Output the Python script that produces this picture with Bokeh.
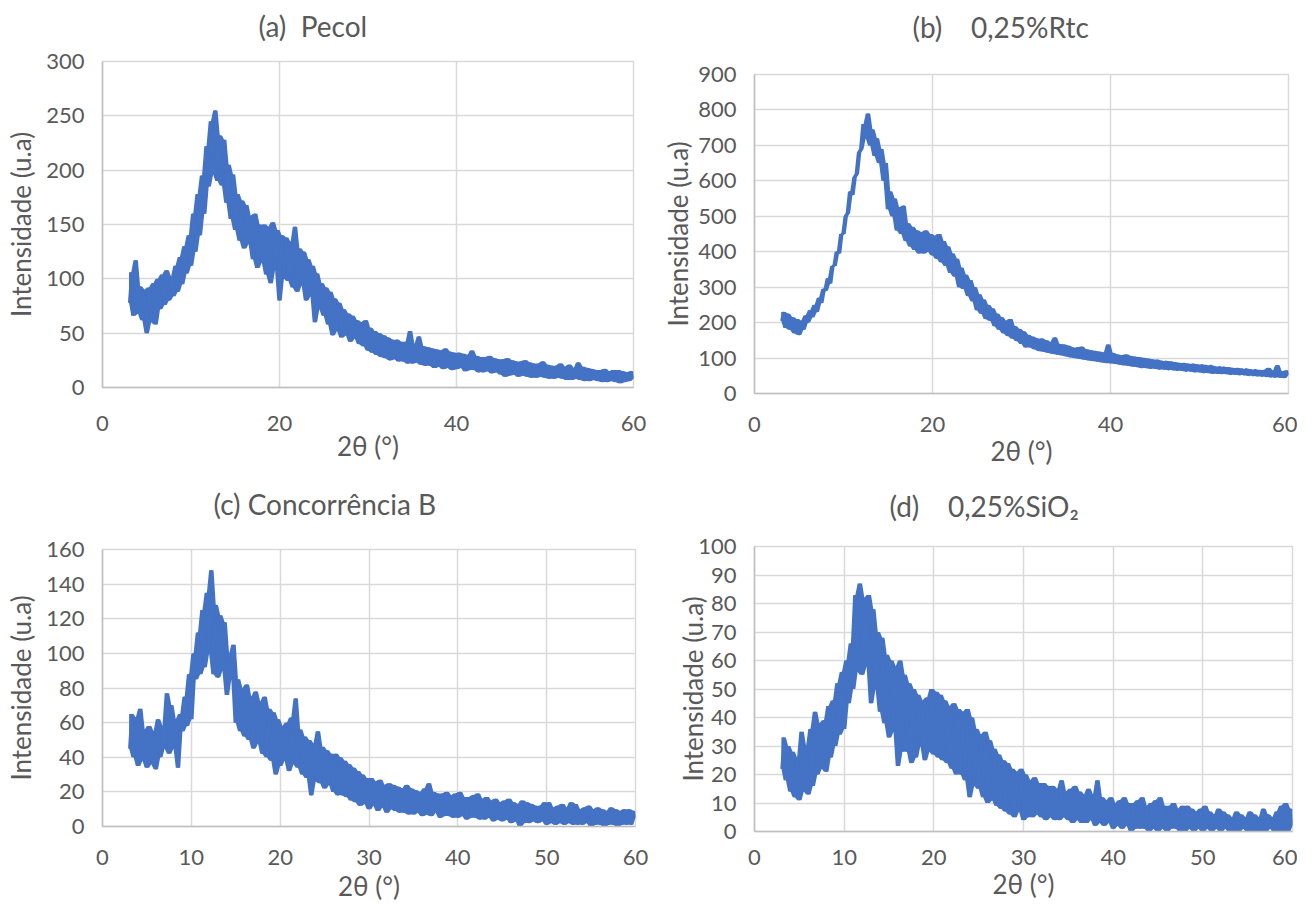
from bokeh.plotting import figure
from bokeh.layouts import row, column
from bokeh.models import Range1d, FixedTicker, ColumnDataSource
from bokeh.embed import file_html
from bokeh.resources import INLINE

# ---------------- data ----------------
TWO_THETA_START = 3.0
TWO_THETA_STEP = 0.25

pecol = [
    78, 106, 66, 117,   68, 93, 62, 90,   50, 92, 60, 96,   58, 100, 72, 104,
    76, 108, 80, 102,   84, 112, 88, 120,  95, 130, 105, 140, 112, 160, 125, 178,
    140, 195, 160, 222, 185, 245, 196, 255, 190, 232, 186, 228, 170, 205, 155, 196,
    145, 178, 135, 172, 128, 168, 132, 158, 118, 160, 110, 150, 115, 150, 104, 148,
    96, 152, 108, 145,  80, 140, 100, 138,  98, 134, 92, 148,  88, 128, 94, 125,
    80, 118, 84, 112,   60, 105, 72, 96,    66, 92, 58, 88,    48, 82, 52, 78,
    46, 72, 48, 68,     42, 66, 45, 62,    40, 60, 38, 62,    34, 55, 32, 52,
    30, 50, 28, 48,     27, 46, 25, 44,    26, 44, 24, 42,    24, 42, 22, 52,
    22, 40, 23, 47,     21, 38, 20, 37,    20, 36, 18, 35,    19, 34, 17, 36,
    18, 33, 16, 32,     17, 32, 18, 31,    15, 30, 16, 34,    16, 29, 14, 28,
    14, 28, 15, 29,     13, 27, 14, 26,    12, 26, 10, 27,    11, 25, 12, 24,
    10, 24, 11, 25,     10, 23, 9, 22,     9, 22, 10, 24,     9, 21, 8, 20,
    8, 20, 9, 22,       8, 19, 7, 21,      7, 18, 8, 23,      7, 19, 6, 18,
    6, 17, 7, 16,       6, 16, 5, 17,      5, 15, 6, 16,      5, 16, 4, 15,
    5, 14, 6, 15,       8,
]

rtc = [
    205, 230, 185, 225, 180, 215, 170, 210, 165, 205, 180, 220, 200, 235, 215, 250,
    230, 270, 255, 295, 290, 325, 310, 360, 360, 400, 395, 450, 450, 500, 510, 570,
    560, 610, 620, 680, 690, 760, 720, 790, 700, 745, 670, 720, 650, 690, 600, 650,
    520, 570, 500, 550, 460, 525, 450, 530, 430, 480, 415, 470, 405, 460, 395, 455,
    395, 460, 400, 450, 390, 445, 380, 450, 370, 430, 360, 415, 340, 395, 330, 380,
    300, 355, 295, 335, 275, 320, 260, 300, 235, 280, 225, 265, 210, 250, 205, 240,
    190, 225, 180, 215, 170, 205, 162, 210, 155, 190, 148, 182, 140, 175, 130, 165,
    130, 160, 125, 155, 120, 155, 118, 150, 115, 145, 112, 158, 110, 140, 108, 138,
    105, 135, 102, 130, 100, 130, 98, 132,  96, 125, 94, 122,   92, 120, 90, 118,
    88, 116, 86, 138,   85, 114, 84, 110,   82, 108, 80, 110,   78, 106, 76, 104,
    75, 102, 72, 100,   72, 98, 70, 96,     70, 95, 68, 92,     68, 92, 66, 90,
    66, 88, 64, 86,     64, 86, 62, 84,     62, 84, 60, 82,     60, 82, 58, 80,
    58, 80, 56, 76,     56, 76, 55, 75,     55, 74, 53, 72,     53, 72, 52, 70,
    52, 70, 50, 68,     50, 68, 49, 66,     48, 66, 47, 72,     46, 64, 45, 80,
    45, 62, 44, 65,     52,
]

concorrencia_b = [
    45, 65, 40, 63,   35, 68, 38, 56,   34, 58, 36, 55,   33, 62, 40, 58,
    45, 77, 42, 70,   45, 62, 34, 65,   55, 75, 58, 88,   62, 100, 85, 112,
    88, 125, 92, 135, 100, 148, 88, 128, 86, 122, 90, 118, 76, 100, 85, 105,
    60, 85, 55, 80,   52, 82, 50, 75,   45, 78, 48, 72,   42, 75, 40, 68,
    38, 66, 30, 62,   35, 58, 38, 60,   32, 63, 36, 74,   34, 56, 30, 52,
    28, 50, 18, 48,   26, 55, 25, 46,   22, 44, 24, 42,   20, 42, 18, 40,
    18, 38, 17, 36,   15, 34, 14, 32,   12, 30, 13, 28,   10, 28, 12, 26,
    9, 27, 11, 24,    8, 25, 10, 24,    9, 23, 8, 22,     8, 24, 7, 22,
    7, 21, 8, 20,     6, 22, 7, 25,     6, 20, 8, 19,     5, 19, 6, 20,
    6, 18, 5, 19,     5, 20, 6, 17,     4, 17, 5, 18,     5, 19, 4, 16,
    4, 17, 5, 15,     3, 16, 4, 14,     3, 15, 4, 16,     2, 14, 3, 13,
    0, 15, 2, 14,     2, 13, 3, 12,     2, 12, 3, 14,     1, 14, 2, 11,
    1, 12, 2, 13,     1, 11, 2, 14,     1, 13, 1, 10,     1, 11, 2, 12,
    0, 10, 1, 11,     1, 10, 0, 9,      1, 11, 1, 10,     0, 9, 1, 10,
    1, 10, 1, 9,      5,
]

sio2 = [
    22, 33, 18, 30,   14, 28, 12, 26,   11, 35, 14, 30,   13, 36, 16, 42,
    20, 38, 22, 39,   21, 44, 26, 46,   30, 52, 34, 56,   36, 60, 45, 66,
    50, 83, 56, 87,   55, 82, 58, 83,   45, 78, 50, 70,   42, 68, 38, 62,
    33, 60, 35, 58,   23, 60, 28, 55,   28, 52, 24, 50,   26, 48, 30, 46,
    25, 47, 28, 50,   27, 49, 26, 48,   25, 46, 24, 44,   22, 45, 20, 43,
    20, 42, 18, 43,   12, 40, 16, 36,   15, 34, 12, 35,   10, 32, 11, 29,
    9, 27, 8, 25,     7, 24, 6, 22,     5, 21, 7, 22,     4, 20, 5, 18,
    5, 19, 6, 17,     5, 17, 4, 16,     5, 16, 4, 15,     4, 18, 5, 14,
    4, 15, 3, 16,     4, 14, 3, 13,     3, 15, 4, 13,     2, 18, 3, 12,
    2, 11, 3, 12,     1, 10, 2, 11,     1, 12, 2, 10,     0, 10, 1, 11,
    1, 12, 1, 9,      0, 10, 1, 11,     0, 12, 1, 9,      0, 9, 1, 10,
    1, 8, 0, 9,       0, 9, 1, 8,       0, 7, 1, 8,       0, 9, 1, 7,
    0, 6, 1, 8,       0, 7, 1, 6,       0, 5, 0, 7,       0, 6, 1, 5,
    0, 7, 0, 6,       0, 5, 0, 8,       0, 6, 1, 5,       0, 7, 0, 9,
    0, 10, 0, 8,      2,
]

NB = "\u00a0"
titles = ["(a)" + NB * 2 + "Pecol",
          "(b)" + NB * 4 + "0,25%Rtc",
          "(c)" + NB + "Concorrência B",
          "(d)" + NB * 4 + "0,25%SiO\u2082"]
y_ends = [300, 900, 160, 100]
y_steps = [50, 100, 20, 10]
x_steps = [20, 20, 10, 10]
x_label = "2θ (°)"
y_label = "Intensidade (u.a)"

FONT = "Lato"
TXT = "#595959"
BLUE = "#4472C4"


def two_theta(n):
    return [round(TWO_THETA_START + TWO_THETA_STEP * i, 2) for i in range(n)]


def envelope(values):
    lo, hi = [], []
    n = len(values)
    for i in range(n):
        w = values[max(0, i - 1):min(n, i + 2)]
        lo.append(min(w))
        hi.append(max(w))
    return lo, hi


def make(values, title, y_end, y_step, x_step, geom):
    (bl, br, bt, bb, fw, fh, t_dx, t_stand, t_pad,
     xt_stand, ylab_stand, xlab_stand) = geom
    p = figure(frame_width=fw, frame_height=fh,
               min_border_left=bl, min_border_right=br,
               min_border_top=bt, min_border_bottom=bb,
               x_range=Range1d(0, 60), y_range=Range1d(0, y_end),
               toolbar_location=None, output_backend="svg",
               background_fill_color="white", border_fill_color="white")
    xs = two_theta(len(values))
    lo, hi = envelope(values)
    src = ColumnDataSource(dict(x=xs, y=values, lo=lo, hi=hi))
    p.varea(x="x", y1="lo", y2="hi", source=src, fill_color=BLUE, fill_alpha=1.0)
    p.line(x="x", y="y", source=src, line_color=BLUE, line_width=2.2)

    p.title.text = title
    p.title.align = "left"
    p.title.offset = t_dx
    p.title.standoff = t_stand
    p.title.padding = dict(left=0, right=0, top=0, bottom=t_pad)
    p.title.text_font = FONT
    p.title.text_font_size = "28px"
    p.title.text_font_style = "normal"
    p.title.text_color = TXT

    p.xaxis.ticker = FixedTicker(ticks=list(range(0, 61, x_step)))
    p.yaxis.ticker = FixedTicker(ticks=list(range(0, y_end + 1, y_step)))
    p.xaxis.axis_label = x_label
    p.yaxis.axis_label = y_label
    for ax in (p.xaxis, p.yaxis):
        ax.major_tick_line_color = None
        ax.minor_tick_line_color = None
        ax.major_tick_out = 0
        ax.major_tick_in = 0
        ax.axis_line_color = "#BFBFBF"
        ax.axis_line_width = 1.5
        ax.major_label_text_font = FONT
        ax.major_label_text_font_size = "22px"
        ax.major_label_text_color = TXT
        ax.axis_label_text_font = FONT
        ax.axis_label_text_font_size = "26px"
        ax.axis_label_text_font_style = "normal"
        ax.axis_label_text_color = TXT
    p.yaxis.major_label_standoff = 18
    p.xaxis.major_label_standoff = xt_stand
    p.yaxis.axis_label_standoff = ylab_stand
    p.xaxis.axis_label_standoff = xlab_stand
    p.grid.grid_line_color = "#D9D9D9"
    p.grid.grid_line_width = 1.5
    p.outline_line_color = "#D9D9D9"
    p.outline_line_width = 1.5
    return p


#               bl   br  bt  bb   fw   fh  t_dx stand pad  xt  yl  xl
pa = make(pecol, titles[0], y_ends[0], y_steps[0], x_steps[0],
          (102, 17, 60, 72, 531, 326, 156, 13, 12, 28, 6, -4))
pc = make(concorrencia_b, titles[2], y_ends[2], y_steps[2], x_steps[2],
          (102, 15, 85, 77, 533, 277, 111, 16, 21, 23, 6, 2))
pb = make(rtc, titles[1], y_ends[1], y_steps[1], x_steps[1],
          (104, 9, 73, 72, 534, 319, 158, 15, 23, 23, 1, 0))
pd_ = make(sio2, titles[3], y_ends[3], y_steps[3], x_steps[3],
           (104, 5, 77, 71, 538, 285, 135, 16, 16, 18, -14, 0))

layout = row(column(pa, pc), column(pb, pd_))
open("out.html", "w").write(file_html(layout, INLINE))
